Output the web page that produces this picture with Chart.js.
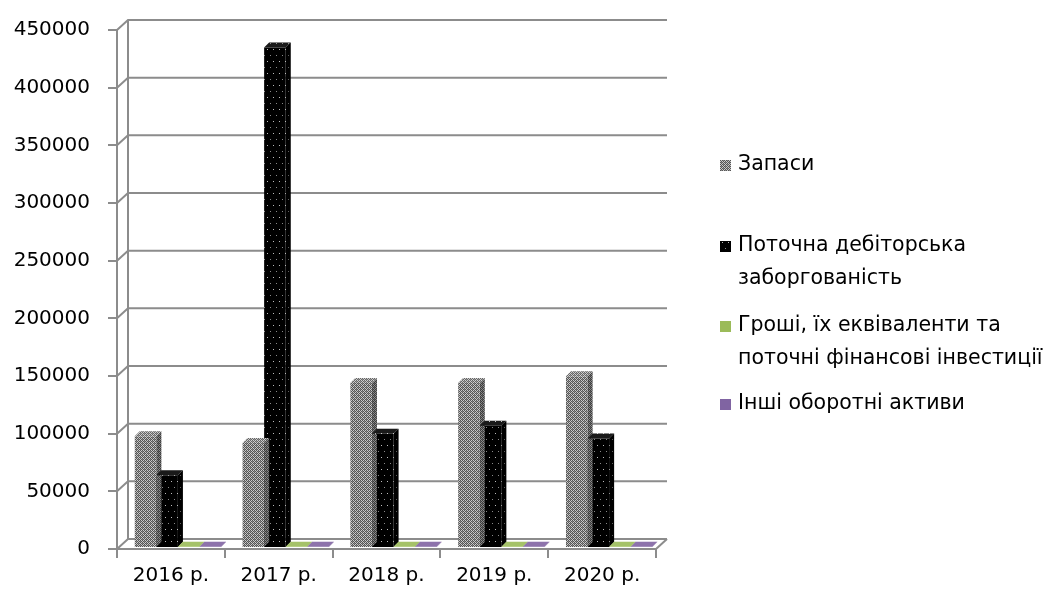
<!DOCTYPE html>
<html>
<head>
<meta charset="utf-8">
<script src="https://cdn.jsdelivr.net/npm/chart.js@4.4.1/dist/chart.umd.min.js"></script>
<style>
  html, body { margin: 0; padding: 0; background: #fff; }
  #wrap { position: relative; width: 1054px; height: 599px; }
</style>
</head>
<body>
<div id="wrap"><canvas id="chart"></canvas></div>
<script>
const categories = ["2016 р.", "2017 р.", "2018 р.", "2019 р.", "2020 р."];
const zapasy = [97000, 91000, 143000, 143000, 149000];
const debitorska = [63000, 434000, 99000, 106000, 95000];
const groshi = [1000, 1000, 1000, 1000, 1000];
const inshi = [1000, 1000, 1000, 1000, 1000];
const yTicks = [0, 50000, 100000, 150000, 200000, 250000, 300000, 350000, 400000, 450000];

const legendLines = [
  ["Запаси"],
  ["Поточна дебіторська", "заборгованість"],
  ["Гроші, їх еквіваленти та", "поточні фінансові інвестиції"],
  ["Інші оборотні активи"],
];
const legendY = [165, 246, 326, 404];

const gridColor = "#8c8c8c";
const fontFamily = "'DejaVu Sans', sans-serif";
// 3d depth of the back wall and of the bars; bars sit half way into the floor
const wallDx = 11;
const wallDy = 10;
const barDx = 5;
const barDy = 5;
const barShiftX = 7;
const barShiftY = -1;

const makePattern = (w, h, draw) => {
  const c = document.createElement("canvas");
  c.width = w;
  c.height = h;
  const g = c.getContext("2d");
  draw(g);
  return g.createPattern(c, "repeat");
};

const grayPattern = makePattern(4, 4, (g) => {
  g.fillStyle = "#c9c9c9";
  g.fillRect(0, 0, 4, 4);
  g.fillStyle = "#555";
  for (let y = 0; y < 4; y += 1) {
    for (let x = 0; x < 4; x += 1) {
      if ((x + y) % 2 === 0) g.fillRect(x, y, 1, 1);
    }
  }
  g.fillStyle = "#888";
  g.fillRect(1, 2, 1, 1);
  g.fillRect(3, 0, 1, 1);
});

const dotPattern = makePattern(6, 12, (g) => {
  g.fillStyle = "#000";
  g.fillRect(0, 0, 6, 12);
  g.fillStyle = "#bdbdbd";
  g.fillRect(2, 2, 1, 1);
  g.fillStyle = "#8a8a8a";
  g.fillRect(5, 8, 1, 1);
});

const fills = [grayPattern, dotPattern, "#9bbb59", "#8064a2"];

const shadeFace = (ctx, pts, fill, overlay) => {
  ctx.beginPath();
  ctx.moveTo(pts[0][0], pts[0][1]);
  pts.slice(1).forEach((p) => ctx.lineTo(p[0], p[1]));
  ctx.closePath();
  ctx.fillStyle = fill;
  ctx.fill();
  if (overlay) {
    ctx.fillStyle = overlay;
    ctx.fill();
  }
};

const wallPlugin = {
  id: "wall",
  beforeDatasetsDraw: (chart) => {
    const { ctx, chartArea } = chart;
    const yScale = chart.scales.y;
    const { left, right, top, bottom } = chartArea;
    ctx.save();
    ctx.strokeStyle = gridColor;
    ctx.lineWidth = 2;
    yTicks.forEach((v) => {
      const y = yScale.getPixelForValue(v);
      ctx.beginPath();
      ctx.moveTo(left, y);
      ctx.lineTo(left + wallDx, y - wallDy);
      ctx.lineTo(right + wallDx, y - wallDy);
      ctx.stroke();
    });
    ctx.beginPath();
    ctx.moveTo(left + wallDx, top - wallDy);
    ctx.lineTo(left + wallDx, bottom - wallDy);
    ctx.stroke();
    ctx.beginPath();
    ctx.moveTo(right, bottom);
    ctx.lineTo(right + wallDx, bottom - wallDy);
    ctx.stroke();
    ctx.restore();
    // bars are drawn a little into the depth of the floor
    ctx.save();
    ctx.translate(barShiftX, barShiftY);
  },
  afterDatasetsDraw: (chart) => {
    const { ctx } = chart;
    chart.data.datasets.forEach((ds, i) => {
      const meta = chart.getDatasetMeta(i);
      meta.data.forEach((bar) => {
        const x0 = bar.x - bar.width / 2;
        const x1 = bar.x + bar.width / 2;
        const y = bar.y;
        const base = bar.base;
        shadeFace(ctx, [[x1, y], [x1 + barDx, y - barDy], [x1 + barDx, base - barDy], [x1, base]], fills[i], "rgba(0,0,0,0.3)");
        shadeFace(ctx, [[x0, y], [x0 + barDx, y - barDy], [x1 + barDx, y - barDy], [x1, y]], fills[i], "rgba(255,255,255,0.1)");
      });
    });
    ctx.restore();
  },
  afterDraw: (chart) => {
    const { ctx } = chart;
    ctx.save();
    ctx.font = `20.5px ${fontFamily}`;
    ctx.textBaseline = "middle";
    legendLines.forEach((lines, i) => {
      const y = legendY[i];
      ctx.fillStyle = fills[i];
      ctx.fillRect(720, y - 5, 11, 11);
      ctx.fillStyle = "#000";
      lines.forEach((line, j) => {
        ctx.fillText(line, 738, y + j * 33);
      });
    });
    ctx.restore();
  },
};

const datasets = [zapasy, debitorska, groshi, inshi].map((values, i) => ({
  label: legendLines[i].join(" "),
  data: values,
  backgroundColor: fills[i],
  borderWidth: 0,
  categoryPercentage: 0.8,
  barPercentage: 1,
}));

new Chart(document.getElementById("chart"), {
  type: "bar",
  data: { labels: categories, datasets },
  plugins: [wallPlugin],
  options: {
    responsive: true,
    maintainAspectRatio: false,
    devicePixelRatio: 1,
    animation: false,
    layout: { padding: { top: 24, right: 398, left: 0, bottom: 0 } },
    plugins: {
      legend: { display: false },
      tooltip: { enabled: false },
    },
    scales: {
      x: {
        grid: {
          display: true,
          drawOnChartArea: false,
          drawTicks: true,
          tickLength: 9,
          color: gridColor,
          lineWidth: 2,
          offset: true,
        },
        border: { color: gridColor, width: 2 },
        ticks: {
          color: "#000",
          font: { family: fontFamily, size: 20 },
          padding: 6,
          maxRotation: 0,
        },
        afterFit: (scale) => {
          scale.height = 50;
        },
      },
      y: {
        min: 0,
        max: 450000,
        afterBuildTicks: (scale) => {
          scale.ticks = yTicks.map((v) => ({ value: v }));
        },
        grid: {
          display: true,
          drawOnChartArea: false,
          drawTicks: true,
          tickLength: 9,
          color: gridColor,
          lineWidth: 2,
        },
        border: { color: gridColor, width: 2 },
        ticks: {
          color: "#000",
          font: { family: fontFamily, size: 20 },
          padding: 18,
          callback: (value) => String(value),
        },
        afterFit: (scale) => {
          scale.width = 117;
        },
      },
    },
  },
});
</script>
</body>
</html>
